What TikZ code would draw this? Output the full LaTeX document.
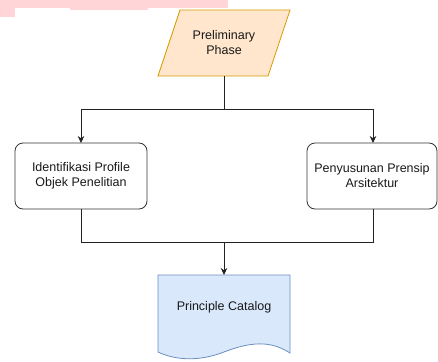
\documentclass[tikz,border=0pt]{standalone}
\usepackage{fontspec}
\setmainfont{Liberation Sans}
\usetikzlibrary{arrows.meta}
\definecolor{orfill}{HTML}{FFE6CC}
\definecolor{orline}{HTML}{D79B00}
\definecolor{blfill}{HTML}{DAE8FC}
\definecolor{blline}{HTML}{6C8EBF}
\definecolor{pinkish}{HTML}{FFD5D8}
\definecolor{edgec}{HTML}{222222}
\begin{document}
\begin{tikzpicture}[x=1pt,y=-1pt,
  lbl/.style={font=\fontsize{12.5}{15}\selectfont, align=center, text=black!90},
  rbox/.style={draw=black!80, line width=0.8pt, rounded corners=8pt, fill=white},
  conn/.style={draw=edgec, line width=0.8pt},
  arr/.style={conn, -{Stealth[length=7pt,width=6.5pt]}}]
\useasboundingbox (0,0) rectangle (438,361);
% pink smudge at top left
\fill[pinkish] (0,0) rectangle (228,8);
\fill[pinkish] (0,0) rectangle (15,17);
\fill[pinkish] (70,7) rectangle (148,10);
% parallelogram
\draw[fill=orfill, draw=orline, line width=0.8pt] (180,10) -- (290,10) -- (268,76) -- (158,76) -- cycle;
\node[lbl] (prelim) at (224,43) {Preliminary\\Phase};
\coordinate (pbot) at (224,76);
% boxes
\draw[rbox] (15,143) rectangle (147,209);
\node[lbl] (ident) at (81,176) {Identifikasi Profile\\Objek Penelitian};
\draw[rbox] (307,143) rectangle (437,209);
\node[lbl] (penyu) at (372,176) {Penyusunan Prensip\\Arsitektur};
\coordinate (itop) at (81,143);
\coordinate (ptop) at (373,143);
\coordinate (ibot) at (81,209);
\coordinate (pbot2) at (373,209);
\coordinate (split) at (224,109);
\coordinate (merge) at (224,242);
% document
\draw[fill=blfill, draw=blline, line width=0.8pt]
  (158,275) -- (290,275) -- (290,353)
  .. controls (270,340) and (250,342) .. (224,352)
  .. controls (198,362) and (175,360) .. (158,352) -- cycle;
\node[lbl] (cat) at (224,307) {Principle Catalog};
\coordinate (dtop) at (224,275);
% connectors
\draw[conn] (pbot) -- (split);
\draw[arr] (split) -| (itop);
\draw[arr] (split) -| (ptop);
\draw[conn] (ibot) |- (merge);
\draw[conn] (pbot2) |- (merge);
\draw[arr] (merge) -- (dtop);
\end{tikzpicture}
\end{document}
